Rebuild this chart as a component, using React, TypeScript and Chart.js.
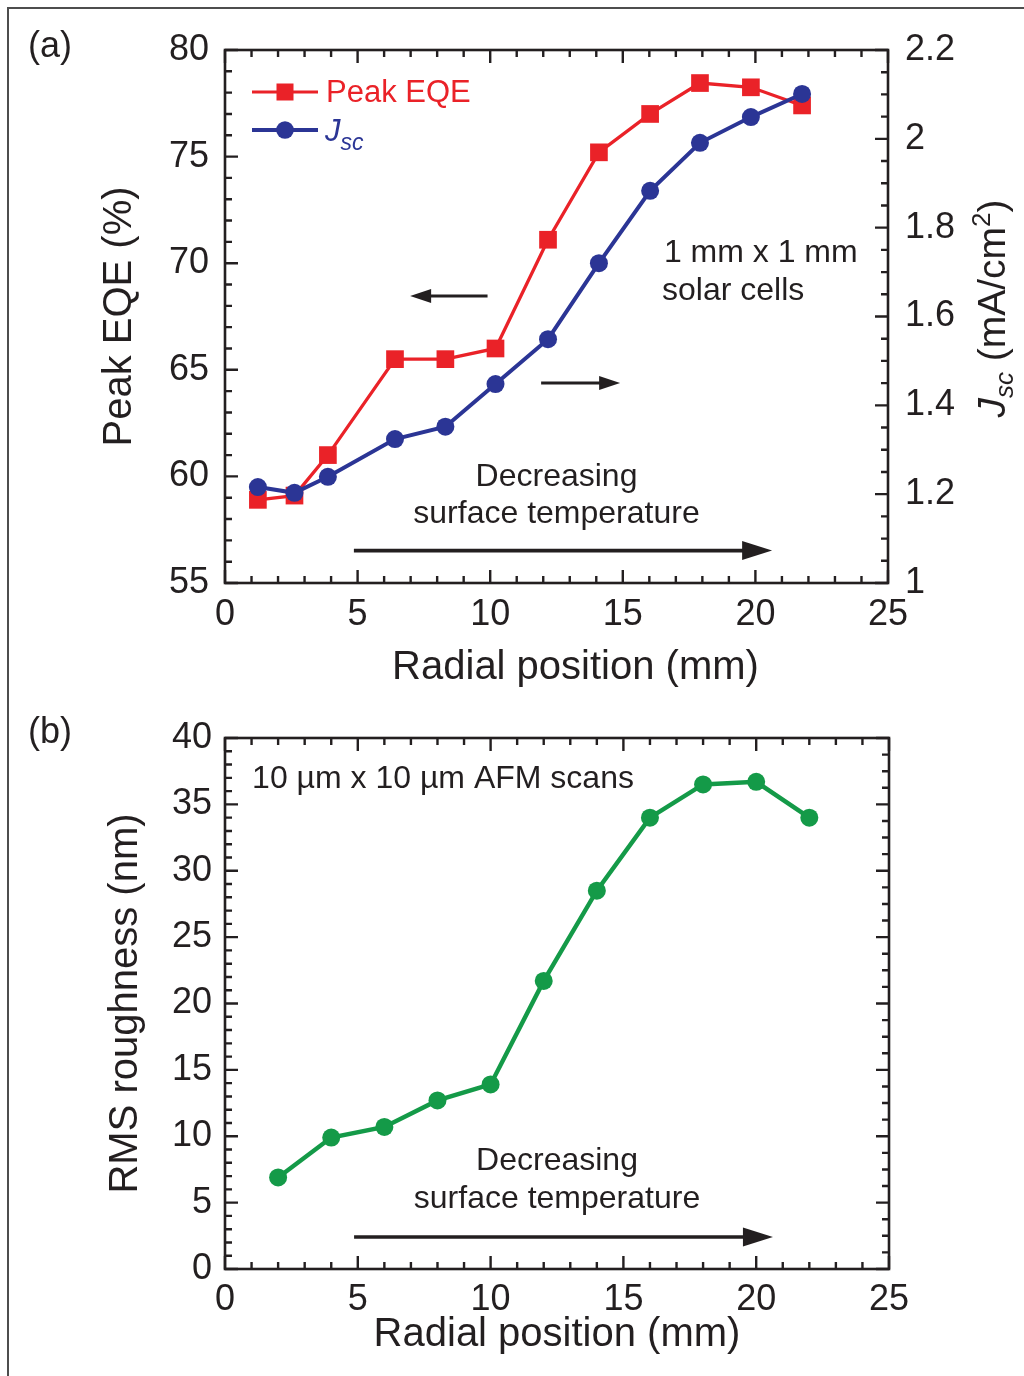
import React, { useEffect, useRef } from 'react';
import { Chart, registerables } from 'chart.js';

Chart.register(...registerables);

const FONT = '"Liberation Sans", Arial, Helvetica, sans-serif';
const INK = '#231f20';
const RED = '#ea2228';
const BLUE = '#2b3595';
const GREEN = '#149a48';

// ---------- Panel (a) data ----------
const radialA = [1.24, 2.62, 3.88, 6.41, 8.31, 10.2, 12.18, 14.1, 16.03, 17.91, 19.83, 21.76];
const peakEQE = [58.9, 59.1, 61.0, 65.5, 65.5, 66.0, 71.1, 75.2, 77.0, 78.45, 78.25, 77.4];
const jsc = [1.216, 1.203, 1.239, 1.324, 1.352, 1.448, 1.549, 1.72, 1.883, 1.991, 2.049, 2.101];

// ---------- Panel (b) data ----------
const radialB = [2, 4, 6, 8, 10, 12, 14, 16, 18, 20, 22];
const rmsRoughness = [6.9, 9.9, 10.7, 12.7, 13.9, 21.7, 28.5, 34.0, 36.5, 36.7, 34.0];

// ---------- Axis ranges / tick labels ----------
const xRange = [0, 25];
const eqeRange = [55, 80];
const jscRange = [1, 2.2];
const rmsRange = [0, 40];
const jscTickLabels = ['1', '1.2', '1.4', '1.6', '1.8', '2', '2.2'];

// ---------- Annotations (data coordinates) ----------
const notesA = [
  { text: '1 mm x 1 mm', x: 16.55, y: 70.48, align: 'left' },
  { text: 'solar cells', x: 16.48, y: 68.7, align: 'left' },
  { text: 'Decreasing', x: 12.5, y: 59.97, align: 'center' },
  { text: 'surface temperature', x: 12.5, y: 58.24, align: 'center' },
];
const arrowsA = [
  { from: 9.9, to: 6.98, y: 68.46, big: false },
  { from: 11.92, to: 14.9, y: 64.38, big: false },
  { from: 4.86, to: 20.63, y: 56.52, big: true },
];
const notesB = [
  { text: '10 µm x 10 µm AFM scans', x: 1.02, y: 36.9, align: 'left' },
  { text: 'Decreasing', x: 12.5, y: 8.1, align: 'center' },
  { text: 'surface temperature', x: 12.5, y: 5.25, align: 'center' },
];
const arrowsB = [{ from: 4.86, to: 20.63, y: 2.41, big: true }];

const MAJOR = 13;
const MINOR = 7;

function tickMarks(chart: any, scaleId: string, min: number, step: number, count: number, majorEvery: number, side: string) {
  const s = chart.scales[scaleId];
  const { left, right, top, bottom } = chart.chartArea;
  const ctx = chart.ctx;
  ctx.beginPath();
  for (let i = 0; i <= count; i++) {
    const v = min + i * step;
    const p = s.getPixelForValue(v);
    const len = i % majorEvery === 0 ? MAJOR : MINOR;
    if (side === 'bottom') { ctx.moveTo(p, bottom); ctx.lineTo(p, bottom - len); }
    else if (side === 'top') { ctx.moveTo(p, top); ctx.lineTo(p, top + len); }
    else if (side === 'left') { ctx.moveTo(left, p); ctx.lineTo(left + len, p); }
    else { ctx.moveTo(right, p); ctx.lineTo(right - len, p); }
  }
  ctx.stroke();
}

function drawFrame(chart: any) {
  const { ctx } = chart;
  const { left, right, top, bottom } = chart.chartArea;
  ctx.save();
  ctx.strokeStyle = INK;
  ctx.lineWidth = 2.6;
  ctx.strokeRect(left, top, right - left, bottom - top);
  ctx.lineWidth = 2.4;
  tickMarks(chart, 'x', 0, 1, 25, 5, 'bottom');
  tickMarks(chart, 'x', 0, 1, 25, 5, 'top');
  ctx.restore();
}

function drawNotes(chart: any, notes: any[], yId: string) {
  const ctx = chart.ctx;
  const xs = chart.scales.x;
  const ys = chart.scales[yId];
  ctx.save();
  ctx.fillStyle = INK;
  ctx.font = `32px ${FONT}`;
  ctx.textBaseline = 'middle';
  for (const n of notes) {
    ctx.textAlign = n.align;
    ctx.fillText(n.text, xs.getPixelForValue(n.x), ys.getPixelForValue(n.y));
  }
  ctx.restore();
}

function drawArrows(chart: any, arrows: any[], yId: string) {
  const ctx = chart.ctx;
  const xs = chart.scales.x;
  const ys = chart.scales[yId];
  ctx.save();
  ctx.strokeStyle = INK;
  ctx.fillStyle = INK;
  for (const a of arrows) {
    const x1 = xs.getPixelForValue(a.from);
    const x2 = xs.getPixelForValue(a.to);
    const y = ys.getPixelForValue(a.y);
    const dir = Math.sign(x2 - x1);
    const hl = a.big ? 30 : 21;
    const hw = a.big ? 9.5 : 7;
    ctx.lineWidth = a.big ? 3.6 : 3;
    ctx.beginPath();
    ctx.moveTo(x1, y);
    ctx.lineTo(x2 - dir * hl * 0.8, y);
    ctx.stroke();
    ctx.beginPath();
    ctx.moveTo(x2, y);
    ctx.lineTo(x2 - dir * hl, y - hw);
    ctx.lineTo(x2 - dir * hl, y + hw);
    ctx.closePath();
    ctx.fill();
  }
  ctx.restore();
}

function drawPanelLabel(ctx: any, text: string, x: number, y: number) {
  ctx.save();
  ctx.fillStyle = INK;
  ctx.font = `36px ${FONT}`;
  ctx.textAlign = 'left';
  ctx.textBaseline = 'middle';
  ctx.fillText(text, x, y);
  ctx.restore();
}

function drawRich(ctx: any, parts: any[], x0: number, y0: number, color: string, center: boolean) {
  let total = 0;
  for (const p of parts) { ctx.font = p.f; total += ctx.measureText(p.t).width; }
  let x = center ? x0 - total / 2 : x0;
  ctx.fillStyle = color;
  ctx.textAlign = 'left';
  ctx.textBaseline = 'alphabetic';
  for (const p of parts) {
    ctx.font = p.f;
    ctx.fillText(p.t, x, y0 + p.dy);
    x += ctx.measureText(p.t).width;
  }
}

const decorA = {
  id: 'decorA',
  afterDraw(chart: any) {
    const ctx = chart.ctx;
    const { left, right, top, bottom } = chart.chartArea;
    drawFrame(chart);
    ctx.save();
    ctx.strokeStyle = INK;
    ctx.lineWidth = 2.4;
    tickMarks(chart, 'y', 55, 1, 25, 5, 'left');
    tickMarks(chart, 'y1', 1, 0.05, 24, 4, 'right');
    ctx.restore();
    drawArrows(chart, arrowsA, 'y');
    drawNotes(chart, notesA, 'y');
    drawPanelLabel(ctx, '(a)', 28, 47);

    // x-axis title (drawn slightly right of centre, as in the source)
    ctx.save();
    ctx.fillStyle = INK;
    ctx.font = `40px ${FONT}`;
    ctx.textAlign = 'center';
    ctx.textBaseline = 'middle';
    ctx.fillText('Radial position (mm)', (left + right) / 2 + 19, bottom + 85);
    ctx.restore();

    // legend
    ctx.save();
    const lx1 = left + 27, lx2 = left + 93, lc = left + 60;
    const ry = top + 42, by = top + 80;
    ctx.lineWidth = 3.2;
    ctx.strokeStyle = RED;
    ctx.fillStyle = RED;
    ctx.beginPath(); ctx.moveTo(lx1, ry); ctx.lineTo(lx2, ry); ctx.stroke();
    ctx.fillRect(lc - 8.5, ry - 8.5, 17, 17);
    ctx.font = `31px ${FONT}`;
    ctx.textBaseline = 'middle';
    ctx.textAlign = 'left';
    ctx.fillText('Peak EQE', left + 101, ry + 1);
    ctx.strokeStyle = BLUE;
    ctx.fillStyle = BLUE;
    ctx.lineWidth = 3.8;
    ctx.beginPath(); ctx.moveTo(lx1, by); ctx.lineTo(lx2, by); ctx.stroke();
    ctx.beginPath(); ctx.arc(lc, by, 8.8, 0, Math.PI * 2); ctx.fill();
    drawRich(ctx, [
      { t: 'J', f: `italic 31px ${FONT}`, dy: 0 },
      { t: 'sc', f: `italic 23px ${FONT}`, dy: 9 },
    ], left + 100, by + 11, BLUE, false);
    ctx.restore();

    // right axis title
    ctx.save();
    const cy = (top + bottom) / 2 - 8;
    ctx.translate(right + 117, cy);
    ctx.rotate(-Math.PI / 2);
    drawRich(ctx, [
      { t: 'J', f: `italic 39px ${FONT}`, dy: 0 },
      { t: 'sc', f: `italic 26px ${FONT}`, dy: 8 },
      { t: ' (mA/cm', f: `39px ${FONT}`, dy: 0 },
      { t: '2', f: `26px ${FONT}`, dy: -15 },
      { t: ')', f: `39px ${FONT}`, dy: 0 },
    ], 0, 0, INK, true);
    ctx.restore();
  },
};

const decorB = {
  id: 'decorB',
  afterDraw(chart: any) {
    const ctx = chart.ctx;
    drawFrame(chart);
    ctx.save();
    ctx.strokeStyle = INK;
    ctx.lineWidth = 2.4;
    tickMarks(chart, 'y', 0, 1, 40, 5, 'left');
    tickMarks(chart, 'y', 0, 1.25, 32, 4, 'right');
    ctx.restore();
    drawArrows(chart, arrowsB, 'y');
    drawNotes(chart, notesB, 'y');
    drawPanelLabel(ctx, '(b)', 28, 45);
  },
};

const tickFont = { family: FONT, size: 36 };
const titleFont = { family: FONT, size: 40, lineHeight: 1 };

function xScale(showTitle: boolean, titlePadBottom: number, labelPad: number, height: number) {
  return {
    type: 'linear',
    position: 'bottom',
    min: xRange[0],
    max: xRange[1],
    grid: { display: false, drawTicks: false },
    border: { display: false },
    ticks: { stepSize: 5, color: INK, font: tickFont, padding: labelPad, maxRotation: 0, autoSkip: false },
    title: { display: showTitle, text: 'Radial position (mm)', color: INK, font: titleFont, padding: { top: 0, bottom: titlePadBottom } },
    afterFit: (s: any) => { s.height = height; },
  };
}

function configA(): any {
  return {
    type: 'line',
    data: {
      datasets: [
        {
          label: 'Jsc',
          data: radialA.map((x, i) => ({ x, y: jsc[i] })),
          yAxisID: 'y1',
          borderColor: BLUE,
          backgroundColor: BLUE,
          borderWidth: 4,
          pointStyle: 'circle',
          pointRadius: 9,
          pointBorderWidth: 0,
          pointBackgroundColor: BLUE,
          order: 0,
        },
        {
          label: 'Peak EQE',
          data: radialA.map((x, i) => ({ x, y: peakEQE[i] })),
          yAxisID: 'y',
          borderColor: RED,
          backgroundColor: RED,
          borderWidth: 3.3,
          pointStyle: 'rect',
          pointRadius: 12.5,
          pointBorderWidth: 0,
          pointBackgroundColor: RED,
          order: 1,
        },
      ],
    },
    options: {
      animation: false,
      responsive: false,
      devicePixelRatio: 1,
      events: [],
      layout: { padding: { top: 50, left: 0, right: 0, bottom: 0 } },
      plugins: { legend: { display: false }, tooltip: { enabled: false } },
      scales: {
        x: xScale(false, 1, 10, 105),
        y: {
          type: 'linear',
          position: 'left',
          min: eqeRange[0],
          max: eqeRange[1],
          grid: { display: false, drawTicks: false },
          border: { display: false },
          ticks: { stepSize: 5, color: INK, font: tickFont, padding: 16 },
          title: { display: true, text: 'Peak EQE (%)', color: INK, font: titleFont, padding: { top: 100, bottom: 0 } },
          afterFit: (s: any) => { s.width = 225; },
        },
        y1: {
          type: 'linear',
          position: 'right',
          min: jscRange[0],
          max: jscRange[1],
          grid: { display: false, drawTicks: false },
          border: { display: false },
          ticks: {
            stepSize: 0.2,
            color: INK,
            font: tickFont,
            padding: 17,
            callback: (v: number) => jscTickLabels[Math.round((v - jscRange[0]) / 0.2)] ?? '',
          },
          title: { display: false },
          afterFit: (s: any) => { s.width = 136; },
        },
      },
    },
    plugins: [decorA],
  };
}

function configB(): any {
  return {
    type: 'line',
    data: {
      datasets: [
        {
          label: 'RMS roughness',
          data: radialB.map((x, i) => ({ x, y: rmsRoughness[i] })),
          borderColor: GREEN,
          backgroundColor: GREEN,
          borderWidth: 4.4,
          pointStyle: 'circle',
          pointRadius: 9,
          pointBorderWidth: 0,
          pointBackgroundColor: GREEN,
        },
      ],
    },
    options: {
      animation: false,
      responsive: false,
      devicePixelRatio: 1,
      events: [],
      layout: { padding: { top: 50, left: 0, right: 135, bottom: 0 } },
      plugins: { legend: { display: false }, tooltip: { enabled: false } },
      scales: {
        x: xScale(true, 21, 9, 107),
        y: {
          type: 'linear',
          position: 'left',
          min: rmsRange[0],
          max: rmsRange[1],
          grid: { display: false, drawTicks: false },
          border: { display: false },
          ticks: { stepSize: 5, color: INK, font: tickFont, padding: 13 },
          title: { display: true, text: 'RMS roughness (nm)', color: INK, font: titleFont, padding: { top: 106, bottom: 0 } },
          afterFit: (s: any) => { s.width = 225; },
        },
      },
    },
    plugins: [decorB],
  };
}

export default function App() {
  const refA = useRef<HTMLCanvasElement>(null);
  const refB = useRef<HTMLCanvasElement>(null);
  useEffect(() => {
    const a = new Chart(refA.current as HTMLCanvasElement, configA());
    const b = new Chart(refB.current as HTMLCanvasElement, configB());
    return () => {
      a.destroy();
      b.destroy();
    };
  }, []);
  return (
    <div style={{ position: 'absolute', left: 0, top: 0, width: 1024, height: 1376, overflow: 'hidden', background: '#ffffff' }}>
      <div style={{ position: 'absolute', left: 7, top: 7, width: 1040, height: 1400, border: '2px solid #4d4d4d' }} />
      <canvas ref={refA} width={1024} height={688} style={{ position: 'absolute', left: 0, top: 0, width: 1024, height: 688 }} />
      <canvas ref={refB} width={1024} height={688} style={{ position: 'absolute', left: 0, top: 688, width: 1024, height: 688 }} />
    </div>
  );
}
